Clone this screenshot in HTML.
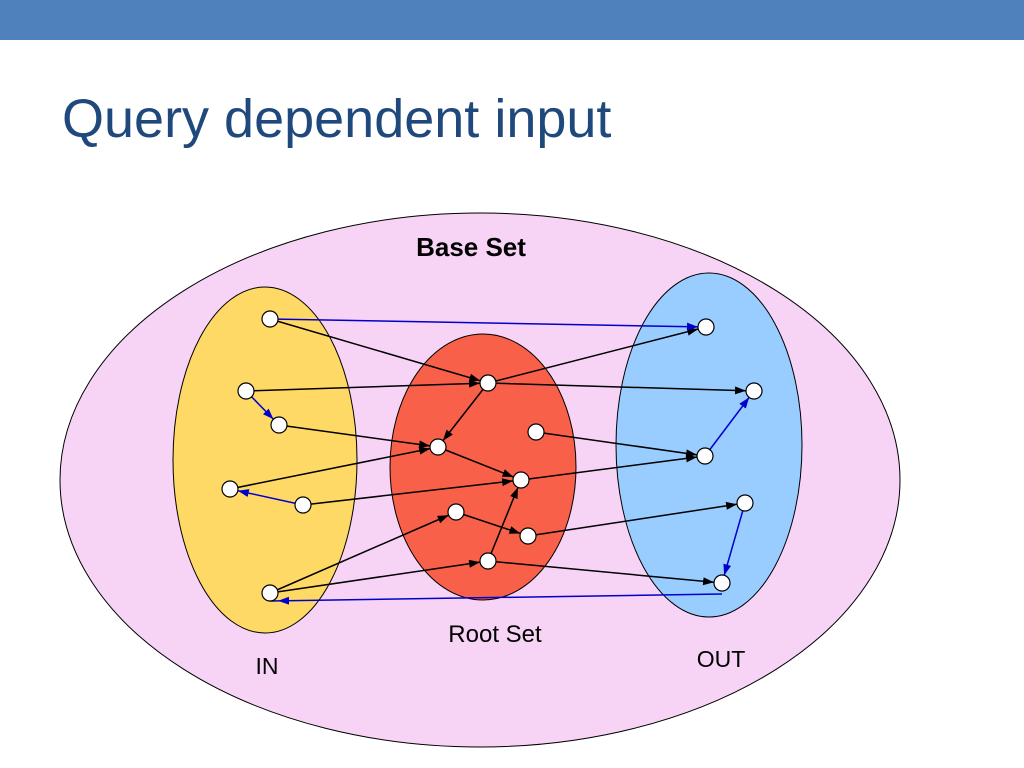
<!DOCTYPE html>
<html><head><meta charset="utf-8"><style>
body{margin:0;width:1024px;height:768px;overflow:hidden;background:#fff;font-family:"Liberation Sans",sans-serif}
</style></head><body>
<svg width="1024" height="768" xmlns="http://www.w3.org/2000/svg" style="position:absolute;left:0;top:0">
<defs>
<marker id="ak" markerUnits="userSpaceOnUse" markerWidth="20" markerHeight="10" refX="19" refY="4" orient="auto"><path d="M0,0 L11,4 L0,8 Z" fill="#000"/></marker>
<marker id="ab" markerUnits="userSpaceOnUse" markerWidth="20" markerHeight="10" refX="19" refY="4" orient="auto"><path d="M0,0 L11,4 L0,8 Z" fill="#0000cc"/></marker>
</defs>
<rect x="0" y="0" width="1024" height="40" fill="#4f81bd"/>
<text x="62" y="137" font-size="54" fill="#1f497d" font-family="Liberation Sans, sans-serif">Query dependent input</text>
<ellipse cx="480" cy="480" rx="420" ry="267" fill="#f7d4f5" stroke="#000" stroke-width="1"/>
<ellipse cx="265" cy="460" rx="92" ry="173" fill="#ffd966" stroke="#000" stroke-width="1"/>
<ellipse cx="483" cy="467" rx="93" ry="133" fill="#f8604a" stroke="#000" stroke-width="1"/>
<ellipse cx="709" cy="445" rx="93" ry="172" fill="#99ccff" stroke="#000" stroke-width="1"/>
<text x="471" y="256" font-size="26" font-weight="bold" text-anchor="middle">Base Set</text>
<text x="495" y="642" font-size="24" text-anchor="middle">Root Set</text>
<text x="267" y="674" font-size="23" text-anchor="middle">IN</text>
<text x="721" y="667" font-size="23" text-anchor="middle">OUT</text>
<g stroke="#000" stroke-width="1.5" marker-end="url(#ak)">
<line x1="270" y1="319" x2="488" y2="383"/>
<line x1="246" y1="391" x2="488" y2="383"/>
<line x1="279" y1="425" x2="438" y2="447"/>
<line x1="230" y1="489" x2="438" y2="447"/>
<line x1="303" y1="505" x2="521" y2="480"/>
<line x1="270" y1="593" x2="456" y2="512"/>
<line x1="270" y1="593" x2="488" y2="561"/>
<line x1="488" y1="383" x2="706" y2="327"/>
<line x1="488" y1="383" x2="754" y2="391"/>
<line x1="488" y1="383" x2="438" y2="447"/>
<line x1="438" y1="447" x2="521" y2="480"/>
<line x1="536" y1="432" x2="705" y2="456"/>
<line x1="521" y1="480" x2="705" y2="456"/>
<line x1="456" y1="512" x2="528" y2="536"/>
<line x1="488" y1="561" x2="521" y2="480"/>
<line x1="528" y1="536" x2="745" y2="503"/>
<line x1="488" y1="561" x2="722" y2="583"/>
</g>
<g stroke="#0000cc" stroke-width="1.5" marker-end="url(#ab)">
<line x1="270" y1="319" x2="706" y2="327"/>
<line x1="246" y1="391" x2="279" y2="425"/>
<line x1="303" y1="505" x2="230" y2="489"/>
<line x1="705" y1="456" x2="754" y2="391"/>
<line x1="745" y1="503" x2="722" y2="583"/>
<line x1="722" y1="594" x2="270" y2="601"/>
</g>
<g fill="#fff" stroke="#000" stroke-width="1.2">
<circle cx="270" cy="319" r="8"/><circle cx="246" cy="391" r="8"/><circle cx="279" cy="425" r="8"/>
<circle cx="230" cy="489" r="8"/><circle cx="303" cy="505" r="8"/><circle cx="270" cy="593" r="8"/>
<circle cx="488" cy="383" r="8"/><circle cx="438" cy="447" r="8"/><circle cx="536" cy="432" r="8"/>
<circle cx="521" cy="480" r="8"/><circle cx="456" cy="512" r="8"/><circle cx="528" cy="536" r="8"/>
<circle cx="488" cy="561" r="8"/>
<circle cx="706" cy="327" r="8"/><circle cx="754" cy="391" r="8"/><circle cx="705" cy="456" r="8"/>
<circle cx="745" cy="503" r="8"/><circle cx="722" cy="583" r="8"/>
</g>
</svg>
</body></html>
